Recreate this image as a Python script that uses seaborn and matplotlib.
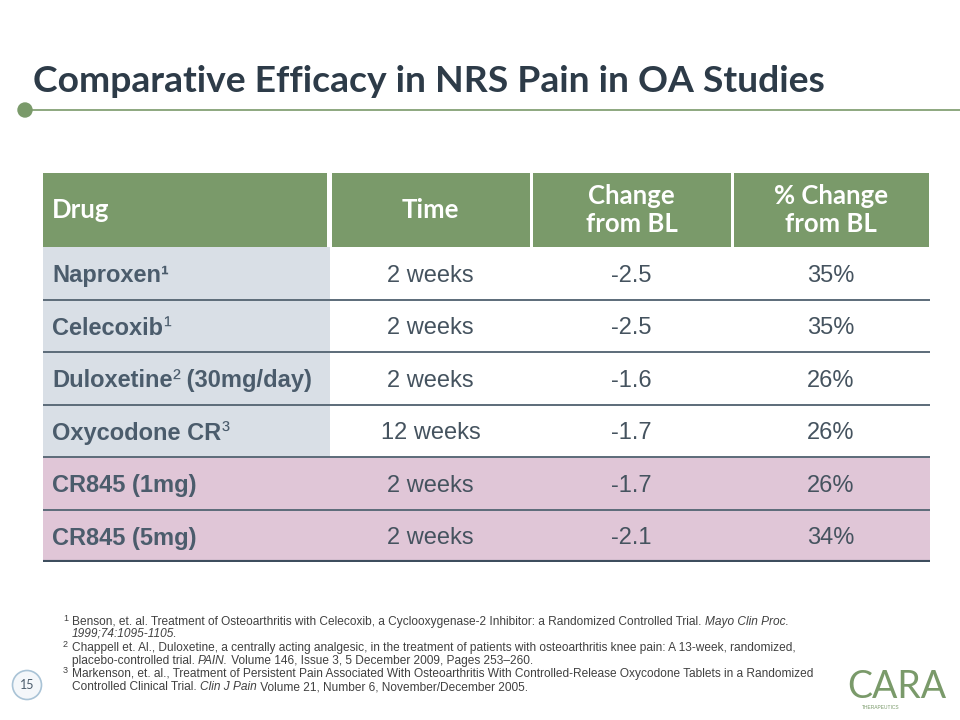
import matplotlib
matplotlib.use("Agg")
import matplotlib.pyplot as plt
import matplotlib.transforms as mtransforms
from matplotlib.patches import Circle
import pandas as pd
import seaborn as sns

# table data
drugs = ["Naproxen", "Celecoxib", "Duloxetine", "Oxycodone CR", "CR845 (1mg)", "CR845 (5mg)"]
refs = ["¹", "¹", "²", "³", "", ""]
suffixes = ["", "", " (30mg/day)", "", "", ""]
times = ["2 weeks", "2 weeks", "2 weeks", "12 weeks", "2 weeks", "2 weeks"]
change_bl = [-2.5, -2.5, -1.6, -1.7, -1.7, -2.1]
pct_change_bl = [35, 35, 26, 26, 26, 34]
groups = ["comparator", "comparator", "comparator", "comparator", "CR845", "CR845"]
headers = ["Drug", "Time", "Change\nfrom BL", "% Change\nfrom BL"]

df = pd.DataFrame({"drug": drugs, "ref": refs, "suffix": suffixes, "time": times,
                   "change": change_bl, "pct": pct_change_bl, "group": groups})

footnotes = [
    ("1", [("Benson, et. al. Treatment of Osteoarthritis with Celecoxib, a Cyclooxygenase-2 Inhibitor: a Randomized Controlled Trial. ", "normal"),
           ("Mayo Clin Proc.", "italic")]),
    (None, [("1999;74:1095-1105.", "italic")]),
    ("2", [("Chappell et. Al., Duloxetine, a centrally acting analgesic, in the treatment of patients with osteoarthritis knee pain: A 13-week, randomized,", "normal")]),
    (None, [("placebo-controlled trial. ", "normal"), ("PAIN.", "italic"),
            (" Volume 146, Issue 3, 5 December 2009, Pages 253\u2013260.", "normal")]),
    ("3", [("Markenson, et. al., Treatment of Persistent Pain Associated With Osteoarthritis With Controlled-Release Oxycodone Tablets in a Randomized", "normal")]),
    (None, [("Controlled Clinical Trial. ", "normal"), ("Clin J Pain", "italic"),
            (" Volume 21, Number 6, November/December 2005.", "normal")]),
]

GREEN = "#7a9a6a"
SLATE = "#2d3b48"
DRUG_BG = "#d9dfe6"
PINK_BG = "#e0c6d7"
BODY_TXT = "#45535f"
DRUG_TXT = "#4b5c6c"
LINE = "#5c6b79"

sns.set_theme(style="white")
plt.rcParams["font.family"] = ["Liberation Sans", "DejaVu Sans"]

fig = plt.figure(figsize=(9.6, 7.2), dpi=100)
renderer = fig.canvas.get_renderer()

# page overlay in pixel coordinates
page = fig.add_axes([0, 0, 1, 1])
page.set_xlim(0, 960)
page.set_ylim(720, 0)
page.axis("off")


def text_width(ax, s, **kw):
    a = ax.text(0, 0, "x" + s + "x", **kw)
    b = ax.text(0, 0, "xx", **kw)
    w = a.get_window_extent(renderer).width - b.get_window_extent(renderer).width
    a.remove()
    b.remove()
    return w


def rich(ax, x, y, parts, **kw):
    dx = 0
    for s, props in parts:
        props = dict(props)
        dy = props.pop("dy", 0)
        tr = mtransforms.offset_copy(ax.transData, fig=fig, x=dx, y=dy, units="dots")
        style = {**kw, **props}
        ax.text(x, y, s, transform=tr, **style)
        dx += text_width(ax, s, **style)


# title and rule
page.text(33, 92, "Comparative Efficacy in NRS Pain in OA Studies", fontsize=26.8,
          fontweight="bold", family=["Lato", "DejaVu Sans"], color=SLATE, va="baseline")
page.plot([25, 960], [110, 110], color=GREEN, lw=1.2)
page.add_patch(Circle((25, 110), 7, color=GREEN))

# table axes
col_edges = [0, 287, 488, 689, 887]
header_h = 74 / 52.5
ax = fig.add_axes([43 / 960, 1 - 562 / 720, 887 / 960, (562 - 173) / 720])
ax.set_xlim(0, 887)
ax.set_ylim(len(df), -header_h)
ax.axis("off")

for j, h in enumerate(headers):
    left, right = col_edges[j], col_edges[j + 1]
    ax.barh(-header_h, right - left - 3, left=left + (1.5 if j else 0), height=header_h,
            align="edge", color=GREEN, lw=0)
    if j == 0:
        ax.text(left + 9, -header_h / 2, h, ha="left", va="center", fontsize=18.5,
                fontweight="bold", family=["Lato", "DejaVu Sans"], color="white")
    else:
        ax.text((left + right) / 2, -header_h / 2, h, ha="center", va="center", fontsize=18.5,
                fontweight="bold", family=["Lato", "DejaVu Sans"], color="white",
                linespacing=1.2)

for i, row in df.iterrows():
    pink = row["group"] == "CR845"
    ax.barh(i, col_edges[-1], left=0, height=1, align="edge",
            color=PINK_BG if pink else "white", lw=0)
    if not pink:
        ax.barh(i, col_edges[1], left=0, height=1, align="edge", color=DRUG_BG, lw=0)
    parts = [(row["drug"], {"fontweight": "bold"})]
    if row["ref"]:
        parts.append((row["ref"], {"fontweight": "bold" if i == 0 else "normal"}))
    if row["suffix"]:
        parts.append((row["suffix"], {"fontweight": "bold"}))
    rich(ax, 9, i + 0.5, parts, fontsize=17, color=DRUG_TXT, va="center_baseline")
    vals = [row["time"], f"{row['change']:.1f}", f"{row['pct']}%"]
    for j, v in enumerate(vals, start=1):
        ax.text((col_edges[j] + col_edges[j + 1]) / 2, i + 0.5, v, ha="center",
                va="center_baseline", fontsize=17, color=BODY_TXT)

ax.hlines(range(1, len(df)), 0, col_edges[-1], color=LINE, lw=1.4)
ax.hlines(len(df), 0, col_edges[-1], color="#3e4e5e", lw=3)

# footnotes
baselines = [625, 637, 651, 664, 677, 690]
for (sup, parts), yb in zip(footnotes, baselines):
    if sup:
        page.text(63, yb - 4, sup, fontsize=6.5, color="#404040", va="baseline")
    rich(page, 72, yb, [(s, {"style": st}) for s, st in parts],
         fontsize=8.6, color="#404040", va="baseline")

# page number
page.add_patch(Circle((27, 685), 14.5, facecolor="#f4f7fa", edgecolor="#a9c3d6", lw=1.2))
page.text(27, 685, "15", ha="center", va="center", fontsize=9, color="#4b5c6c",
          family=["Lato", "DejaVu Sans"])

# logo
page.text(897, 698, "CARA", ha="center", va="baseline", fontsize=27, color=GREEN,
          family=["Lato", "DejaVu Sans"], fontweight="normal")
page.text(881, 709, "THERAPEUTICS", ha="center", va="baseline", fontsize=3.5, color=GREEN)

fig.savefig("out.png", dpi=100)
